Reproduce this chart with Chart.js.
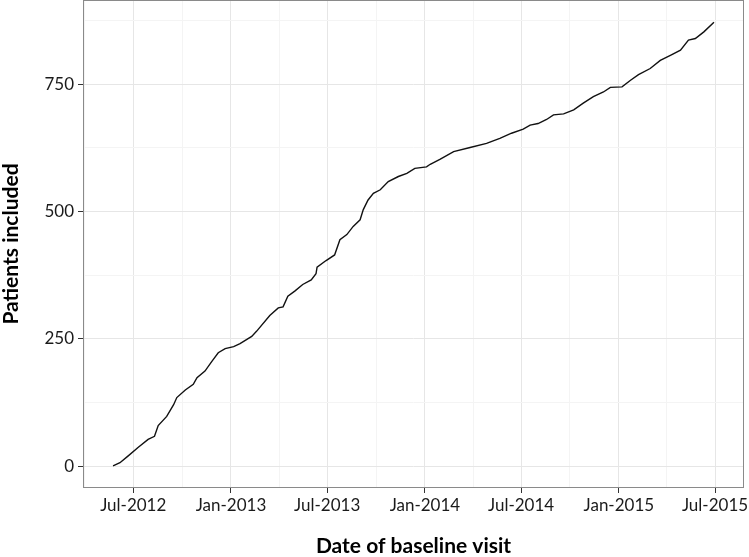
<!DOCTYPE html>
<html>
<head>
<meta charset="utf-8">
<script src="https://cdn.jsdelivr.net/npm/chart.js@4/dist/chart.umd.min.js"></script>
<style>
  html, body { margin: 0; padding: 0; background: #fff; }
  canvas { display: block; }
</style>
</head>
<body>
<canvas id="accrual" width="749" height="557"></canvas>
<script>
// cumulative number of patients by date of baseline visit
const visitDates = [
  '2012-05-24', '2012-06-06', '2012-06-21', '2012-07-10', '2012-07-29', '2012-08-10',
  '2012-08-17', '2012-09-02', '2012-09-15', '2012-09-21', '2012-10-07', '2012-10-22',
  '2012-10-29', '2012-11-13', '2012-11-26', '2012-12-08', '2012-12-21', '2013-01-06',
  '2013-01-18', '2013-02-09', '2013-02-18', '2013-03-15', '2013-03-31', '2013-04-09',
  '2013-04-18', '2013-05-01', '2013-05-16', '2013-06-01', '2013-06-10', '2013-06-12',
  '2013-06-29', '2013-07-15', '2013-07-25', '2013-08-07', '2013-08-19', '2013-09-01',
  '2013-09-07', '2013-09-16', '2013-09-26', '2013-10-09', '2013-10-24', '2013-11-12',
  '2013-11-28', '2013-12-13', '2014-01-04', '2014-01-11', '2014-01-30', '2014-02-24',
  '2014-03-27', '2014-04-27', '2014-05-22', '2014-06-13', '2014-07-05', '2014-07-18',
  '2014-08-02', '2014-08-18', '2014-08-31', '2014-09-19', '2014-10-08', '2014-10-26',
  '2014-11-14', '2014-12-03', '2014-12-16', '2015-01-07', '2015-01-23', '2015-02-07',
  '2015-03-01', '2015-03-20', '2015-04-08', '2015-04-27', '2015-05-12', '2015-05-25',
  '2015-06-10', '2015-06-29'
];
const patients = [
  1, 7, 20, 37, 53, 59,
  80, 98, 121, 135, 150, 161,
  174, 187, 206, 223, 231, 235,
  241, 255, 265, 296, 311, 313,
  334, 344, 357, 366, 378, 391,
  404, 415, 445, 455, 471, 484,
  504, 523, 536, 543, 559, 569,
  575, 585, 588, 593, 603, 618,
  626, 634, 644, 654, 662, 670,
  673, 681, 690, 692, 700, 713,
  726, 735, 744, 745, 758, 769,
  781, 797, 807, 817, 837, 840,
  853, 872
];

const xTickDates = ['2012-07-01', '2013-01-01', '2013-07-01', '2014-01-01', '2014-07-01', '2015-01-01', '2015-07-01'];
const xTickLabels = ['Jul-2012', 'Jan-2013', 'Jul-2013', 'Jan-2014', 'Jul-2014', 'Jan-2015', 'Jul-2015'];
const yTicks = [0, 250, 500, 750];

const toMs = d => new Date(d).getTime();
const xs = visitDates.map(toMs);
const xMajor = xTickDates.map(toMs);

// ggplot style 5% expansion on both axes
function expand(lo, hi) {
  const pad = (hi - lo) * 0.05;
  return [lo - pad, hi + pad];
}
const [xMin, xMax] = expand(Math.min(...xs), Math.max(...xs));
const [yMin, yMax] = expand(Math.min(...patients), Math.max(...patients));

// major ticks plus minor ones halfway between (and one step beyond the ends)
function withMinor(major, lo, hi) {
  const all = major.slice();
  for (let i = 0; i < major.length - 1; i++) all.push((major[i] + major[i + 1]) / 2);
  const first = major[0] - (major[1] - major[0]) / 2;
  const last = major[major.length - 1] + (major[major.length - 1] - major[major.length - 2]) / 2;
  if (first >= lo) all.push(first);
  if (last <= hi) all.push(last);
  return all.sort((a, b) => a - b).map(v => ({ value: v }));
}

const isMajor = (list, v) => list.some(m => Math.abs(m - v) < 1e-6);

const points = xs.map((x, i) => ({ x: x, y: patients[i] }));

const panelBorder = {
  id: 'panelBorder',
  afterDraw(chart) {
    const { ctx, chartArea: a } = chart;
    ctx.save();
    ctx.strokeStyle = '#8a8a8a';
    ctx.lineWidth = 1;
    ctx.strokeRect(Math.round(a.left) + 0.5, Math.round(a.top) + 0.5,
      Math.round(a.right - a.left) - 1, Math.round(a.bottom - a.top) - 1);
    ctx.restore();
  }
};

const tickFont = { family: 'Lato', size: 17 };
const titleFont = { family: 'Lato', size: 21, weight: 'bold', lineHeight: 1 };

new Chart(document.getElementById('accrual').getContext('2d'), {
  type: 'line',
  data: {
    datasets: [{
      data: points,
      borderColor: '#111',
      borderWidth: 1.4,
      pointRadius: 0,
      tension: 0,
      fill: false
    }]
  },
  options: {
    responsive: false,
    animation: false,
    layout: { padding: { top: 0, right: 5, bottom: 0, left: 0 } },
    plugins: {
      legend: { display: false },
      tooltip: { enabled: false }
    },
    scales: {
      x: {
        type: 'linear',
        min: xMin,
        max: xMax,
        afterBuildTicks: scale => { scale.ticks = withMinor(xMajor, xMin, xMax); },
        afterFit: scale => {
          scale.height = 69;
          scale.paddingLeft = 0;
          scale.paddingRight = 0;
        },
        border: { display: false },
        grid: {
          color: c => isMajor(xMajor, c.tick.value) ? '#e6e6e6' : '#f4f4f4',
          tickColor: c => isMajor(xMajor, c.tick.value) ? '#333' : 'rgba(0,0,0,0)',
          tickLength: 5
        },
        ticks: {
          autoSkip: false,
          maxRotation: 0,
          padding: 2,
          color: '#1a1a1a',
          font: tickFont,
          callback: value => {
            const i = xMajor.findIndex(m => Math.abs(m - value) < 1e-6);
            return i >= 0 ? xTickLabels[i] : '';
          }
        },
        title: {
          display: true,
          text: 'Date of baseline visit',
          color: '#000',
          font: titleFont,
          padding: { top: 0, bottom: 0 }
        }
      },
      y: {
        type: 'linear',
        min: yMin,
        max: yMax,
        afterBuildTicks: scale => { scale.ticks = withMinor(yTicks, yMin, yMax); },
        afterFit: scale => {
          scale.width = 83;
          scale.paddingTop = 0;
          scale.paddingBottom = 0;
        },
        border: { display: false },
        grid: {
          color: c => isMajor(yTicks, c.tick.value) ? '#e6e6e6' : '#f4f4f4',
          tickColor: c => isMajor(yTicks, c.tick.value) ? '#333' : 'rgba(0,0,0,0)',
          tickLength: 5
        },
        ticks: {
          autoSkip: false,
          padding: 4,
          color: '#1a1a1a',
          font: tickFont,
          callback: value => isMajor(yTicks, value) ? String(value) : ''
        },
        title: {
          display: true,
          text: 'Patients included',
          color: '#000',
          font: titleFont,
          padding: { top: 1, bottom: 0 }
        }
      }
    }
  },
  plugins: [panelBorder]
});
</script>
</body>
</html>
